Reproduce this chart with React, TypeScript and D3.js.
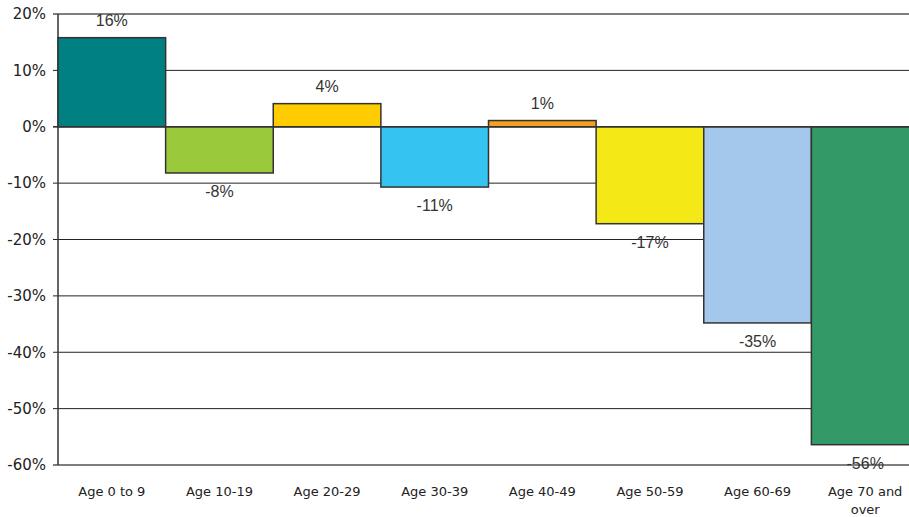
import React from "react";
import * as d3 from "d3";

const categories = ["Age 0 to 9", "Age 10-19", "Age 20-29", "Age 30-39", "Age 40-49", "Age 50-59", "Age 60-69", "Age 70 and over"];
const values = [15.8, -8.2, 4.1, -10.7, 1.1, -17.2, -34.8, -56.4];
const valueLabels = ["16%", "-8%", "4%", "-11%", "1%", "-17%", "-35%", "-56%"];
const colors = ["#008080", "#9ACA3C", "#FFCC00", "#35C4F2", "#F5A11F", "#F4E816", "#A3C8EB", "#339966"];
const yTicks = [20, 10, 0, -10, -20, -30, -40, -50, -60];

const W = 909;
const H = 517;
const left = 58;
const right = 919;
const top = 14;
const bottom = 465;

export default function App() {
  const x = d3.scaleBand<string>().domain(categories).range([left, right]).padding(0);
  const y = d3.scaleLinear().domain([-60, 20]).range([bottom, top]);
  const bw = x.bandwidth();
  const labelFont = "'Liberation Sans', Arial, sans-serif";
  const axisFont = "'DejaVu Sans', sans-serif";
  return (
    <svg width={W} height={H} style={{ position: "absolute", left: 0, top: 0, background: "#fff" }}>
      {yTicks.map((t) => (
        <g key={t}>
          <line x1={left - 5} x2={W} y1={y(t)} y2={y(t)} stroke={t === 20 || t === -60 ? "#555" : "#222"} strokeWidth={t === 20 || t === -60 ? 1.6 : 1} />
          <text x={46} y={y(t)} dy="0.35em" textAnchor="end" fontSize={15} fontFamily={axisFont} fill="#222">{t}%</text>
        </g>
      ))}
      <line x1={left} x2={left} y1={top} y2={bottom} stroke="#333" strokeWidth={1.5} />
      {categories.map((c, i) => {
        const v = values[i];
        const y0 = y(Math.max(0, v));
        const h = Math.abs(y(v) - y(0));
        return (
          <g key={c}>
            <rect x={x(c)} y={y0} width={bw} height={h} fill={colors[i]} stroke="#333" strokeWidth={1.5} />
            <text x={(x(c) as number) + bw / 2} y={v >= 0 ? y(v) - 12 : y(v) + 24} textAnchor="middle" fontSize={16} fontFamily={labelFont} fill="#333">{valueLabels[i]}</text>
          </g>
        );
      })}
      <line x1={left - 5} x2={W} y1={y(0)} y2={y(0)} stroke="#333" strokeWidth={1.5} />
      {categories.map((c) => {
        const cx = (x(c) as number) + bw / 2;
        const parts = c === "Age 70 and over" ? ["Age 70 and", "over"] : [c];
        return (
          <text key={c} x={cx} y={496} textAnchor="middle" fontSize={13} fontFamily={axisFont} fill="#222">
            {parts.map((p, j) => (
              <tspan key={j} x={cx} dy={j === 0 ? 0 : 18}>{p}</tspan>
            ))}
          </text>
        );
      })}
    </svg>
  );
}
